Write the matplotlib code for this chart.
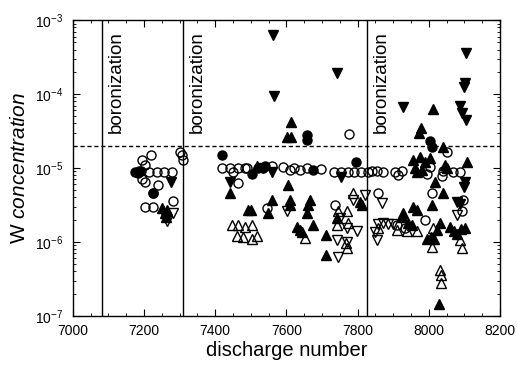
import matplotlib
matplotlib.use("Agg")
import matplotlib.pyplot as plt
from matplotlib.ticker import MultipleLocator, LogLocator

plt.rcParams['font.family'] = ['Liberation Sans', 'DejaVu Sans']
plt.rcParams['mathtext.fontset'] = 'custom'
plt.rcParams['mathtext.rm'] = 'Liberation Sans'
plt.rcParams['mathtext.it'] = 'Liberation Sans:italic'

# open circles
oc_x = [7194, 7219, 7202, 7185, 7236, 7256, 7278, 7215, 7239, 7202, 7195, 7225, 7202, 7225,
        7281, 7300, 7306, 7308, 7419, 7441, 7464, 7483, 7450, 7464, 7489, 7560, 7590, 7610,
        7620, 7638, 7658, 7697, 7733, 7753, 7773, 7790, 7810, 7829, 7545, 7736, 7776, 7840,
        7854, 7871, 7905, 7925, 7913, 8003, 7995, 8051, 8040, 8037, 8068, 8088, 8009, 8096,
        8093, 7989, 7857, 7910, 7933]
oc_y = [1.3e-5, 1.5e-5, 1.1e-5, 9e-6, 8.9e-6, 8.9e-6, 8.9e-6, 8.9e-6, 5.9e-6, 6.5e-6, 7.2e-6,
        4.6e-6, 3e-6, 3e-6, 3.6e-6, 1.66e-5, 1.5e-5, 1.3e-5, 1e-5, 1e-5, 1e-5, 1e-5, 8.9e-6,
        6.3e-6, 1e-5, 1.05e-5, 1.02e-5, 9.5e-6, 1e-5, 9.3e-6, 1e-5, 9.6e-6, 8.9e-6, 8.9e-6,
        8.9e-6, 8.9e-6, 8.9e-6, 8.9e-6, 2.9e-6, 3.2e-6, 2.9e-5, 9e-6, 9e-6, 8.9e-6, 8.9e-6,
        9e-6, 8e-6, 1.03e-5, 8.3e-6, 1.65e-5, 9e-6, 7.9e-6, 8.9e-6, 8.9e-6, 4.6e-6, 3.7e-6,
        2.6e-6, 2e-6, 4.6e-6, 1.7e-6, 1.55e-6]

# filled circles
fc_x = [7174, 7182, 7190, 7225, 7419, 7520, 7534, 7675, 7658, 7658, 7795, 8003, 8009, 7503, 7540]
fc_y = [8.9e-6, 8.5e-6, 9e-6, 4.6e-6, 1.5e-5, 1e-5, 1e-5, 9.5e-6, 2.4e-5, 2.8e-5, 1.2e-5,
        2.3e-5, 1.9e-5, 8.2e-6, 1.05e-5]

# filled up triangles
fu_x = [7250, 7258, 7265, 7262, 7441, 7492, 7500, 7517, 7604, 7548, 7559, 7610, 7610, 7666,
        7661, 7658, 7629, 7638, 7643, 7675, 7711, 7711, 7742, 7807, 7812, 7613, 7601, 7613,
        8012, 7978, 7972, 8040, 8107, 7955, 7975, 7989, 8003, 7961, 7966, 7980, 8046, 8051,
        8017, 8040, 8009, 8031, 8023, 7995, 8005, 8015, 8060, 8070, 8080, 8090, 8102, 7927,
        7925, 7955, 7966, 7941, 7952, 8028]
fu_y = [2.9e-6, 2.5e-6, 2.7e-6, 2.2e-6, 4.6e-6, 2.7e-6, 2.7e-6, 1.07e-5, 5.9e-6, 2.5e-6,
        3.7e-6, 3.7e-6, 3.2e-6, 3.7e-6, 3.2e-6, 2.5e-6, 1.6e-6, 1.45e-6, 1.35e-6, 1.7e-6,
        1.25e-6, 6.6e-7, 2.1e-6, 3.5e-6, 3.2e-6, 4.2e-5, 2.6e-5, 2.6e-5, 6.3e-5, 3.5e-5,
        3e-5, 1.9e-5, 1.2e-5, 1.29e-5, 1.4e-5, 1.2e-5, 1.35e-5, 1e-5, 8.9e-6, 9.4e-6, 1.1e-5,
        1e-5, 6.5e-6, 4.6e-6, 3.2e-6, 1.8e-6, 1.45e-6, 1.1e-6, 1.15e-6, 1.1e-6, 1.6e-6,
        1.4e-6, 1.3e-6, 1.5e-6, 1.55e-6, 2.5e-6, 2.2e-6, 3e-6, 2.7e-6, 1.8e-6, 1.7e-6, 1.45e-7]

# filled down triangles
fd_x = [7275, 7255, 7562, 7742, 7565, 7927, 8104, 8102, 8100, 8087, 8092, 8104, 7441, 7559,
        7753, 8099, 8102, 8079, 8088, 7535]
fd_y = [6.5e-6, 2.4e-6, 6.3e-4, 1.9e-4, 9.4e-5, 6.7e-5, 3.6e-4, 1.4e-4, 1.25e-4, 6.9e-5,
        5.5e-5, 4.5e-5, 6.5e-6, 8.9e-6, 7.6e-6, 5.5e-6, 6.5e-6, 3.5e-6, 3.3e-6, 1.0e-5]

# open up triangles
ou_x = [7447, 7465, 7483, 7503, 7478, 7503, 7517, 7460, 7652, 7767, 7770, 7745, 7770, 7742,
        7773, 7787, 7857, 8012, 8009, 8088, 8093, 7938, 7966, 7910, 8031, 8034, 8034]
ou_y = [1.7e-6, 1.7e-6, 1.6e-6, 1.7e-6, 1.17e-6, 1.1e-6, 1.2e-6, 1.2e-6, 1.13e-6, 9.7e-7,
        8.3e-7, 2.6e-6, 2.6e-6, 1.7e-6, 1.8e-6, 4.6e-6, 1.55e-6, 1.55e-6, 8.6e-7, 1.05e-6,
        8.3e-7, 1.4e-6, 1.4e-6, 1.45e-6, 4.2e-7, 3.6e-7, 2.8e-7]

# open down triangles
od_x = [7264, 7281, 7601, 7745, 7742, 7750, 7770, 7798, 7787, 7820, 8079, 7868, 7857, 7871,
        7885, 7899, 7848, 7854, 7770]
od_y = [1.9e-6, 2.5e-6, 2.6e-6, 6.3e-7, 1.05e-6, 2.1e-6, 1.55e-6, 1.4e-6, 3.7e-6, 4.3e-6,
        2.3e-6, 3.4e-6, 1.75e-6, 1.8e-6, 1.75e-6, 1.75e-6, 1.35e-6, 1.05e-6, 1.0e-6]

boronization = [7081, 7309, 7826]
limit = 2e-5

fig = plt.figure(figsize=(5.17, 3.66), dpi=100)
ax = fig.add_axes([0.141, 0.137, 0.826, 0.808])

ax.plot(oc_x, oc_y, 'o', ms=6.5, mfc='none', mec='black', mew=1.0, ls='none')
ax.plot(fc_x, fc_y, 'o', ms=6.5, mfc='black', mec='black', ls='none')
ax.plot(fu_x, fu_y, '^', ms=6.5, mfc='black', mec='black', ls='none')
ax.plot(fd_x, fd_y, 'v', ms=6.5, mfc='black', mec='black', ls='none')
ax.plot(ou_x, ou_y, '^', ms=7, mfc='none', mec='black', mew=1.0, ls='none')
ax.plot(od_x, od_y, 'v', ms=7, mfc='none', mec='black', mew=1.0, ls='none')

for xb in boronization:
    ax.axvline(xb, color='black', lw=1.0)
    ax.text(xb + 18, 7.0e-4, 'boronization', rotation=90, va='top', ha='left', fontsize=13.5)
ax.axhline(limit, color='black', lw=1.0, ls=(0, (3, 2)))

ax.set_yscale('log')
ax.set_xlim(7000, 8200)
ax.set_ylim(1e-7, 1e-3)
ax.xaxis.set_major_locator(MultipleLocator(200))
ax.xaxis.set_minor_locator(MultipleLocator(50))
ax.yaxis.set_major_locator(LogLocator(base=10))
ax.yaxis.set_minor_locator(LogLocator(base=10, subs=range(2, 10)))
ax.tick_params(which='both', direction='in', top=True, right=True, labelsize=10)
ax.tick_params(axis='x', which='major', pad=6)
ax.tick_params(axis='y', which='major', pad=7)
ax.tick_params(which='major', length=5)
ax.tick_params(which='minor', length=2.5)
for s in ax.spines.values():
    s.set_linewidth(1.0)

ax.set_xlabel('discharge number', fontsize=14.5, labelpad=2)
ax.set_ylabel(r'W $\mathit{concentration}$', fontsize=15, labelpad=4)

fig.savefig('out.png', dpi=100)
